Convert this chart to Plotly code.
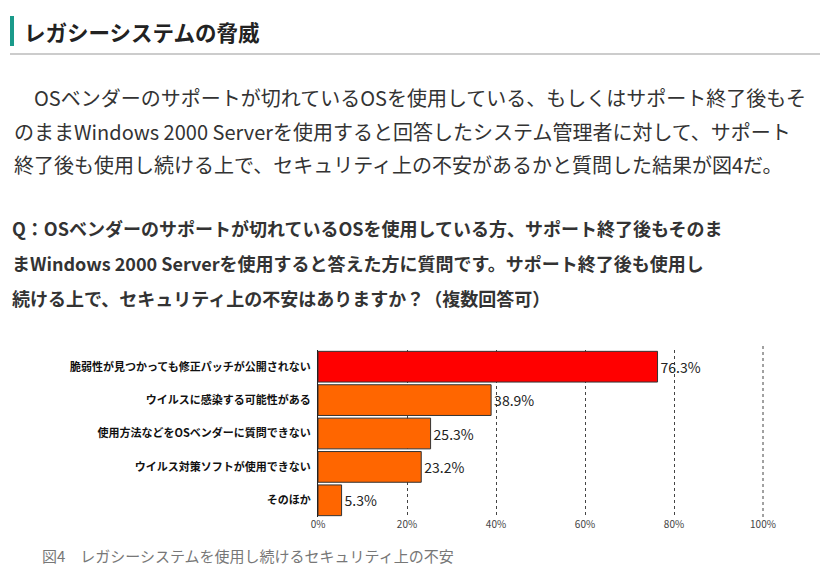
import plotly.graph_objects as go

# data
categories = ['脆弱性が見つかっても修正パッチが公開されない', 'ウイルスに感染する可能性がある',
              '使用方法などをOSベンダーに質問できない', 'ウイルス対策ソフトが使用できない', 'そのほか']
values = [76.3, 38.9, 25.3, 23.2, 5.3]
bar_colors = ['#FF0000', '#FF6600', '#FF6600', '#FF6600', '#FF6600']
tick_vals = [0, 20, 40, 60, 80, 100]
tick_text = ['0%', '20%', '40%', '60%', '80%', '100%']

W, H = 828, 576
OFF = 8  # browser body margin
L, R, T, B = 318 - OFF, 65 + OFF, 350 - OFF, 59 + OFF
PW, PH = W - L - R, H - T - B
JP = 'Noto Sans CJK JP'


def px(x):
    return (x - OFF - L) / PW


def py(y):
    return (H - B - (y - OFF)) / PH


fig = go.Figure(go.Bar(
    x=values, y=[f'<b>{c}</b>' for c in categories], orientation='h',
    marker=dict(color=bar_colors, line=dict(color='#333', width=1)),
    text=[f'{v:.1f}%' for v in values], textposition='outside',
    textfont=dict(size=14, color='#222', family=JP), cliponaxis=False,
))

fig.update_layout(
    width=W, height=H, margin=dict(l=L, r=R, t=T, b=B, autoexpand=False),
    paper_bgcolor='white', plot_bgcolor='white', showlegend=False,
    bargap=0.08,
    xaxis=dict(range=[0, 100], tickvals=tick_vals, ticktext=tick_text,
               showgrid=True, gridcolor='#444', griddash='dot', gridwidth=1,
               zeroline=False, showline=False, ticks='',
               tickfont=dict(size=10, color='#444', family=JP)),
    yaxis=dict(autorange='reversed', showline=True, linecolor='#222', linewidth=1,
               ticks='', tickfont=dict(size=11, color='#111', family=JP),
               ticklabelstandoff=4),
)

shapes = [
    dict(type='line', xref='paper', yref='paper', x0=1, x1=1, y0=0, y1=py(345),
         line=dict(color='#444', width=1, dash='dot')),
    dict(type='rect', xref='paper', yref='paper', x0=px(10), x1=px(14), y0=py(46), y1=py(16),
         fillcolor='#1a9a8a', line=dict(width=0)),
    dict(type='line', xref='paper', yref='paper', x0=px(10), x1=px(820), y0=py(54), y1=py(54),
         line=dict(color='#cccccc', width=2)),
]
fig.update_layout(shapes=shapes)


def note(x, y, text, size, color='#333', bold=False):
    if bold:
        text = f'<b>{text}</b>'
    fig.add_annotation(xref='paper', yref='paper', x=px(x), y=py(y), text=text,
                       showarrow=False, xanchor='left', yanchor='middle',
                       font=dict(size=size, color=color, family=JP))


note(22, 31, 'レガシーシステムの脅威', 21.5, '#222', True)
para = ['　OSベンダーのサポートが切れているOSを使用している、もしくはサポート終了後もそ',
        'のままWindows 2000 Serverを使用すると回答したシステム管理者に対して、サポート',
        '終了後も使用し続ける上で、セキュリティ上の不安があるかと質問した結果が図4だ。']
for i, line in enumerate(para):
    note(12, 97 + i * 34, line, 20, '#333')
q = ['Q：OSベンダーのサポートが切れているOSを使用している方、サポート終了後もそのま',
     'まWindows 2000 Serverを使用すると答えた方に質問です。サポート終了後も使用し',
     '続ける上で、セキュリティ上の不安はありますか？（複数回答可）']
for i, line in enumerate(q):
    note(10, 228 + i * 35, line, 18, '#333', True)
note(40, 555, '図4　レガシーシステムを使用し続けるセキュリティ上の不安', 15, '#777')

fig.write_html('out.html')
